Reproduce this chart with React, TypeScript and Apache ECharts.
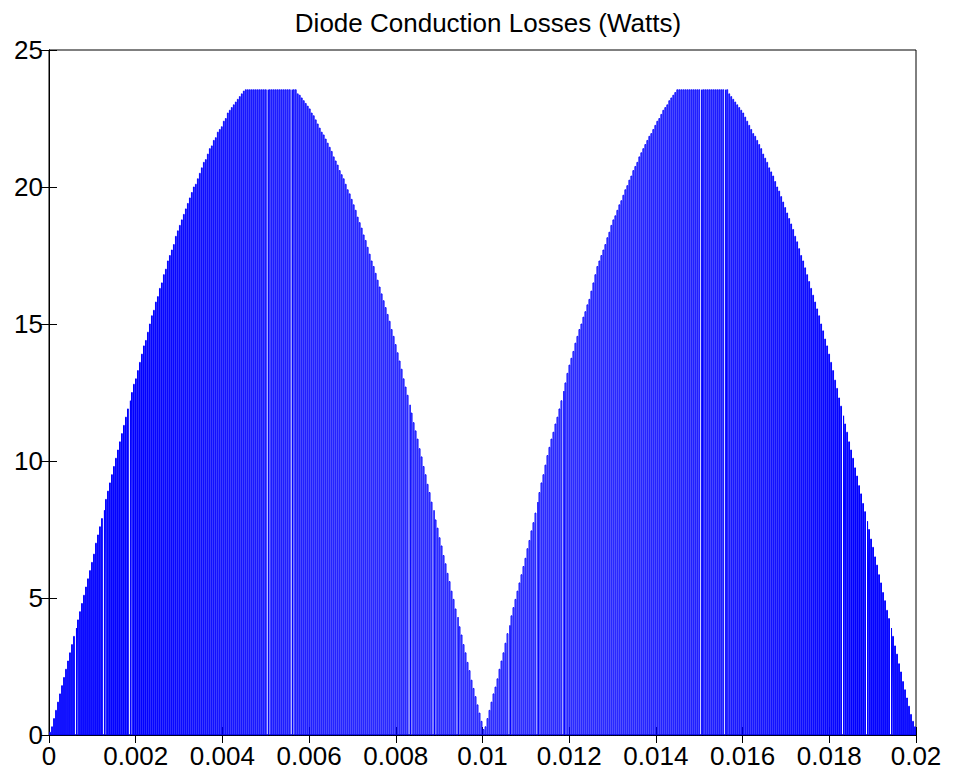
import React, { useEffect, useRef } from "react";
import * as echarts from "echarts";

// Axis ranges and ticks
const X_MIN = 0;
const X_MAX = 0.02;
const X_STEP = 0.002;
const Y_MIN = 0;
const Y_MAX = 25;
const Y_STEP = 5;

const TITLE = "Diode Conduction Losses (Watts)";

// Switching period of the PWM pulses (s) and conduction fraction of each pulse
const PULSE_PERIOD = 0.02 / 434;
const PULSE_START = 0.3;
const ON_FRACTION = 0.42;
// Pulses that start late (leaving a white gap through the fill)
const LATE_START = 0.75;
const LATE_ON_FRACTION = 0.2;

// Peak loss (W) of each pulse, first half-cycle (read from the envelope)
const HUMP1: number[] = [
  0.1, 0.3, 0.6, 0.9, 1.2, 1.5, 1.8, 2.1, 2.4, 2.7,
  3.0, 3.3, 3.6, 3.9, 4.2, 4.5, 4.8, 5.1, 5.4, 5.7,
  6.0, 6.3, 6.6, 7.0, 7.3, 7.6, 7.9, 8.2, 8.6, 8.9,
  9.2, 9.5, 9.8, 10.1, 10.4, 10.7, 11.0, 11.3, 11.6, 11.9,
  12.2, 12.5, 12.8, 13.0, 13.3, 13.6, 13.9, 14.2, 14.4, 14.7,
  15.0, 15.3, 15.5, 15.8, 16.0, 16.3, 16.5, 16.8, 17.0, 17.3,
  17.5, 17.7, 17.9, 18.2, 18.4, 18.6, 18.8, 19.0, 19.2, 19.4,
  19.6, 19.8, 20.0, 20.1, 20.3, 20.5, 20.7, 20.9, 21.0, 21.2,
  21.4, 21.5, 21.7, 21.8, 22.0, 22.1, 22.2, 22.4, 22.5, 22.7,
  22.8, 22.9, 23.0, 23.1, 23.2, 23.3, 23.4, 23.5,
  23.55, 23.55, 23.55, 23.55, 23.55, 23.55, 23.55, 23.55, 23.55, 23.55,
  23.55, 23.55, 23.55, 23.55, 23.55, 23.55, 23.55, 23.55, 23.55, 23.55,
  23.55, 23.55, 23.55, 23.55, 23.55, 23.55,
  23.4, 23.35, 23.25, 23.15, 23.05, 22.95, 22.85, 22.7, 22.6, 22.45,
  22.3, 22.15, 22.0, 21.9, 21.75, 21.6, 21.45, 21.3, 21.1, 20.95,
  20.8, 20.6, 20.45, 20.3, 20.1, 19.9, 19.75, 19.55, 19.35, 19.15,
  18.9, 18.7, 18.5, 18.25, 18.05, 17.8, 17.55, 17.3, 17.1, 16.85,
  16.6, 16.35, 16.1, 15.85, 15.6, 15.35, 15.1, 14.8, 14.55, 14.25,
  13.95, 13.65, 13.35, 13.0, 12.7, 12.4, 12.05, 11.75, 11.4, 11.1,
  10.8, 10.45, 10.15, 9.8, 9.5, 9.15, 8.85, 8.5, 8.2, 7.85,
  7.55, 7.2, 6.9, 6.55, 6.25, 5.9, 5.6, 5.25, 4.95, 4.6,
  4.3, 3.95, 3.65, 3.3, 3.0, 2.65, 2.35, 2.0, 1.7, 1.4,
  1.1, 0.8, 0.5,
];

// Peak loss (W) of each pulse, second half-cycle
const HUMP2: number[] = [
  0.2, 0.3, 0.6, 0.9, 1.2, 1.5, 1.75, 2.05, 2.4, 2.7,
  3.0, 3.35, 3.7, 4.0, 4.35, 4.65, 4.95, 5.25, 5.55, 5.85,
  6.15, 6.45, 6.8, 7.1, 7.45, 7.75, 8.1, 8.5, 8.85, 9.2,
  9.5, 9.85, 10.2, 10.5, 10.8, 11.05, 11.35, 11.6, 11.9, 12.2,
  12.55, 12.85, 13.2, 13.5, 13.75, 14.0, 14.3, 14.55, 14.8, 15.0,
  15.25, 15.45, 15.7, 15.9, 16.2, 16.5, 16.8, 17.1, 17.3, 17.5,
  17.7, 17.9, 18.15, 18.35, 18.6, 18.8, 18.95, 19.15, 19.35, 19.5,
  19.7, 19.9, 20.05, 20.25, 20.4, 20.6, 20.75, 20.9, 21.1, 21.25,
  21.4, 21.55, 21.7, 21.85, 21.95, 22.1, 22.25, 22.4, 22.5, 22.65,
  22.8, 22.9, 23.0, 23.15, 23.25, 23.35, 23.45, 23.55,
  23.55, 23.55, 23.55, 23.55, 23.55, 23.55, 23.55, 23.55, 23.55, 23.55,
  23.55, 23.55, 23.55, 23.55, 23.55, 23.55, 23.55, 23.55, 23.55, 23.55,
  23.55, 23.55, 23.55, 23.55, 23.55,
  23.4, 23.3, 23.2, 23.1, 23.0, 22.9, 22.8, 22.7, 22.55, 22.4,
  22.25, 22.1, 21.95, 21.85, 21.7, 21.55, 21.4, 21.2, 21.05, 20.9,
  20.7, 20.55, 20.4, 20.2, 20.0, 19.85, 19.65, 19.45, 19.25, 19.05,
  18.85, 18.65, 18.45, 18.2, 18.0, 17.75, 17.5, 17.3, 17.05, 16.8,
  16.55, 16.3, 16.05, 15.8, 15.55, 15.3, 15.0, 14.75, 14.45, 14.2,
  13.9, 13.6, 13.3, 12.95, 12.65, 12.3, 12.0, 11.65, 11.35, 11.05,
  10.7, 10.4, 10.1, 9.75, 9.45, 9.1, 8.8, 8.45, 8.15, 7.8,
  7.5, 7.15, 6.85, 6.5, 6.2, 5.85, 5.55, 5.2, 4.9, 4.55,
  4.25, 3.9, 3.6, 3.25, 2.95, 2.6, 2.3, 1.95, 1.65, 1.35,
  1.05, 0.75, 0.5, 0.3,
];

// Pulses that start late (white gaps through the fill)
const LATE_PULSES: number[] = [
  13, 27, 40, 109, 121, 180, 192, 204,
  230, 244, 257, 326, 338, 397, 409, 421,
];

function buildPulseTrain(): [number, number][] {
  const peaks = HUMP1.concat(HUMP2);
  const pts: [number, number][] = [];
  peaks.forEach((h, k) => {
    const late = LATE_PULSES.includes(k);
    const t0 = (k + (late ? LATE_START : PULSE_START)) * PULSE_PERIOD;
    const t1 = t0 + (late ? LATE_ON_FRACTION : ON_FRACTION) * PULSE_PERIOD;
    pts.push([t0, 0], [t0, h], [t1, h], [t1, 0]);
  });
  return pts;
}

const FONT = "'Liberation Sans', Arial, Helvetica, sans-serif";

export default function App() {
  const ref = useRef<HTMLDivElement>(null);

  useEffect(() => {
    if (!ref.current) return;
    const chart = echarts.init(ref.current, null, { renderer: "svg" });
    const tickStyle = { color: "#000", width: 1 };
    chart.setOption({
      animation: false,
      backgroundColor: "#fff",
      title: {
        text: TITLE,
        left: 483,
        top: 5,
        textAlign: "center",
        textStyle: {
          fontFamily: FONT,
          fontSize: 26,
          fontWeight: "normal",
          color: "#000",
        },
      },
      grid: {
        left: 49,
        right: 37,
        top: 50,
        bottom: 41,
        show: true,
        borderColor: "#000",
        borderWidth: 1,
        backgroundColor: "#fff",
      },
      xAxis: [
        {
          type: "value",
          position: "bottom",
          min: X_MIN,
          max: X_MAX,
          interval: X_STEP,
          axisLine: { show: true, lineStyle: tickStyle },
          axisTick: { show: true, inside: true, length: 8, lineStyle: tickStyle },
          axisLabel: {
            color: "#000",
            fontFamily: FONT,
            fontSize: 26,
            margin: 8,
            formatter: (v: number) => String(parseFloat(v.toFixed(4))),
          },
          splitLine: { show: false },
        },
        {
          type: "value",
          position: "top",
          min: X_MIN,
          max: X_MAX,
          interval: X_STEP,
          axisLine: { show: true, lineStyle: tickStyle },
          axisTick: { show: true, inside: true, length: 8, lineStyle: tickStyle },
          axisLabel: { show: false },
          splitLine: { show: false },
        },
      ],
      yAxis: [
        {
          type: "value",
          position: "left",
          min: Y_MIN,
          max: Y_MAX,
          interval: Y_STEP,
          axisLine: { show: true, lineStyle: tickStyle },
          axisTick: { show: true, inside: true, length: 8, lineStyle: tickStyle },
          axisLabel: {
            color: "#000",
            fontFamily: FONT,
            fontSize: 26,
            margin: 6,
          },
          splitLine: { show: false },
        },
        {
          type: "value",
          position: "right",
          min: Y_MIN,
          max: Y_MAX,
          interval: Y_STEP,
          axisLine: { show: true, lineStyle: tickStyle },
          axisTick: { show: true, inside: true, length: 8, lineStyle: tickStyle },
          axisLabel: { show: false },
          splitLine: { show: false },
        },
      ],
      series: [
        {
          type: "line",
          xAxisIndex: 0,
          yAxisIndex: 0,
          data: buildPulseTrain(),
          showSymbol: false,
          symbol: "none",
          silent: true,
          clip: true,
          lineStyle: { color: "#0000ff", width: 1 },
          z: 1,
        },
      ],
    });
    return () => chart.dispose();
  }, []);

  return (
    <div
      ref={ref}
      style={{ position: "fixed", left: 0, top: 0, width: 953, height: 776 }}
    />
  );
}
